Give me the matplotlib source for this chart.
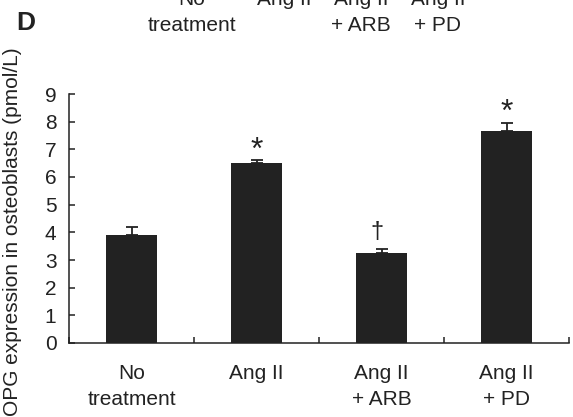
import matplotlib
matplotlib.use("Agg")
import matplotlib.pyplot as plt

plt.rcParams['font.family'] = ['Liberation Sans', 'DejaVu Sans']

categories = ["No\ntreatment", "Ang II", "Ang II\n+ ARB", "Ang II\n+ PD"]
values = [3.9, 6.5, 3.25, 7.65]
errors = [0.28, 0.11, 0.15, 0.31]
marks = ["", "*", "\u2020", "*"]
yticks = [0, 1, 2, 3, 4, 5, 6, 7, 8, 9]
ylabel = "OPG expression in osteoblasts (pmol/L)"
top_line1 = ["No", "Ang II", "Ang II", "Ang II"]
top_line2 = ["treatment", "", "+ ARB", "+ PD"]

W, H = 573, 417
FS = 15
fig = plt.figure(figsize=(W / 100, H / 100), dpi=100)
ax = fig.add_axes([69 / W, 1 - 343 / H, 500 / W, 249 / H])

x = list(range(len(categories)))
bar_color = "#222222"
ax.bar(x, values, width=0.415, color=bar_color, zorder=2)
ax.errorbar(x, values, yerr=[[0] * len(values), errors], fmt="none",
            ecolor=bar_color, elinewidth=1.3, capsize=4, capthick=1.3, zorder=3)

for xi, v, e, m in zip(x, values, errors, marks):
    if not m:
        continue
    if m == "*":
        ax.annotate(m, (xi, v + e), xytext=(0, -4), textcoords="offset points",
                    ha="center", va="bottom", fontsize=23, color="#222222")
    else:
        ax.annotate(m, (xi, v + e), xytext=(-3, 4), textcoords="offset points",
                    ha="center", va="bottom", fontsize=17, color="#222222")

ax.set_xlim(-0.5, 3.5)
ax.set_ylim(0, 9)
ax.set_yticks(yticks)
ax.set_yticklabels([str(t) for t in yticks])
ax.set_xticks([-0.5, 0.5, 1.5, 2.5, 3.5])
ax.set_xticklabels([])
ax.set_xticks(x, minor=True)
ax.set_xticklabels(categories, minor=True, linespacing=1.45)

for s in ["top", "right"]:
    ax.spines[s].set_visible(False)
for s in ["left", "bottom"]:
    ax.spines[s].set_linewidth(1.1)
    ax.spines[s].set_color("#222222")

ax.tick_params(axis="y", direction="in", length=4, width=1.1, labelsize=FS,
               pad=9, colors="#222222")
ax.tick_params(axis="x", which="major", direction="in", length=4, width=1.1,
               colors="#222222")
ax.tick_params(axis="x", which="minor", length=0, labelsize=FS, pad=15,
               colors="#222222")

fig.text(13 / W, 1 - 232 / H, ylabel, rotation=90, ha="center", va="center",
         fontsize=FS, color="#222222")

# Panel letter and clipped labels from the panel above
fig.text(26 / W, 1 - 23 / H, "D", ha="center", va="center", fontsize=19,
         fontweight="bold", color="#222222")
top_x = [192, 284, 361, 438]
for tx, l1, l2 in zip(top_x, top_line1, top_line2):
    fig.text(tx / W, 1 - 5 / H, l1, ha="center", va="baseline", fontsize=FS,
             color="#222222")
    if l2:
        fig.text(tx / W, 1 - 31 / H, l2, ha="center", va="baseline",
                 fontsize=FS, color="#222222")

fig.savefig("out.png", dpi=100)
